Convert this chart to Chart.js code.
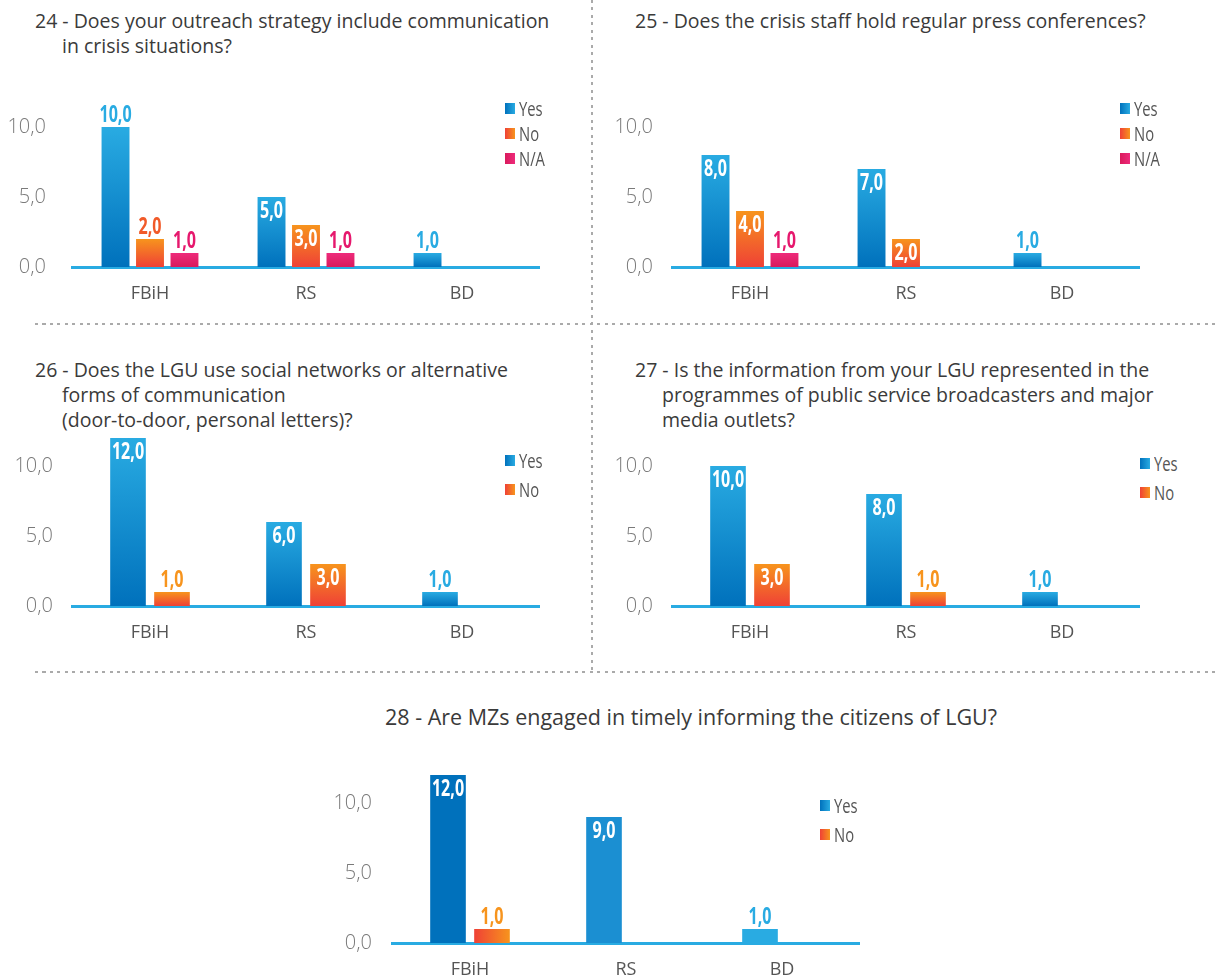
<!DOCTYPE html>
<html lang="en">
<head>
  <meta charset="utf-8">
  <title>Crisis communication | Chart.js</title>
  <script src="https://cdn.jsdelivr.net/npm/chart.js@4.4.0/dist/chart.umd.min.js"></script>
  <style>
    html, body { margin: 0; padding: 0; background: #fff; }
    body { width: 1215px; height: 975px; position: relative; overflow: hidden;
           font-family: 'Open Sans', 'Noto Sans', sans-serif; }
    .title { position: absolute; font-size: 19.5px; line-height: 25px; color: #3a3a3a;
             white-space: nowrap; padding-left: 27px; text-indent: -27px; }
    .legend { position: absolute; font-family: 'Open Sans', 'Noto Sans', sans-serif;
              font-size: 20px; color: #555; }
    .legend div { display: flex; align-items: center; white-space: nowrap; }
    .legend .sq { display: inline-block; width: 10px; height: 11px; margin-right: 4px; }
    .legend .tx { display: inline-block; transform: scaleX(0.74); transform-origin: left center; }
    .hline { position: absolute; height: 2px;
             background: repeating-linear-gradient(to right, #aaa 0 3px, transparent 3px 7.5px); }
    .vline { position: absolute; width: 2px;
             background: repeating-linear-gradient(to bottom, #aaa 0 3px, transparent 3px 7.5px); }
    canvas { position: absolute; }
  </style>
</head>
<body>
  <div class="hline" style="left:35px; top:323px; width:1180px;"></div>
  <div class="hline" style="left:35px; top:671px; width:1180px;"></div>
  <div class="vline" style="left:591px; top:0; height:670px;"></div>

  <div class="title" id="t24" style="left:35px; top:8px;"></div>
  <div class="title" id="t25" style="left:635px; top:8px;"></div>
  <div class="title" id="t26" style="left:35px; top:357px;"></div>
  <div class="title" id="t27" style="left:635px; top:357px;"></div>
  <div class="title" id="t28" style="left:385px; top:704px; font-size:21.5px;"></div>

  <canvas id="c24"></canvas>
  <canvas id="c25"></canvas>
  <canvas id="c26"></canvas>
  <canvas id="c27"></canvas>
  <canvas id="c28"></canvas>

  <div class="legend" id="l24" style="left:505px; top:96px;"></div>
  <div class="legend" id="l25" style="left:1120px; top:96px;"></div>
  <div class="legend" id="l26" style="left:505px; top:446px;"></div>
  <div class="legend" id="l27" style="left:1140px; top:449px;"></div>
  <div class="legend" id="l28" style="left:820px; top:791px;"></div>

  <script>
    // data
    const categories = ['FBiH', 'RS', 'BD'];

    const q24Yes = [10, 5, 1];
    const q24No = [2, 3, null];
    const q24NA = [1, 1, null];

    const q25Yes = [8, 7, 1];
    const q25No = [4, 2, null];
    const q25NA = [1, null, null];

    const q26Yes = [12, 6, 1];
    const q26No = [1, 3, null];

    const q27Yes = [10, 8, 1];
    const q27No = [3, 1, null];

    const q28Yes = [12, 9, 1];
    const q28No = [1, null, null];

    const titles = {
      t24: ['24 - Does your outreach strategy include communication', 'in crisis situations?'],
      t25: ['25 - Does the crisis staff hold regular press conferences?'],
      t26: ['26 - Does the LGU use social networks or alternative', 'forms of communication', '(door-to-door, personal letters)?'],
      t27: ['27 - Is the information from your LGU represented in the', 'programmes of public service broadcasters and major', 'media outlets?'],
      t28: ['28 - Are MZs engaged in timely informing the citizens of LGU?']
    };

    const fmt = v => v.toFixed(1).replace('.', ',');

    Object.keys(titles).forEach(k => {
      document.getElementById(k).innerHTML = titles[k].join('<br>');
    });

    // vertical gradient per bar, light at the top, dark at the base
    function vGrad(top, bottom) {
      return function(ctx) {
        const chart = ctx.chart;
        if (ctx.type !== 'data' || ctx.raw == null || !chart.chartArea) return top;
        const y = chart.scales.y;
        const y1 = y.getPixelForValue(ctx.raw), y0 = y.getPixelForValue(0);
        if (!isFinite(y1) || !isFinite(y0)) return top;
        const g = chart.ctx.createLinearGradient(0, y1, 0, y0);
        g.addColorStop(0, top);
        g.addColorStop(1, bottom);
        return g;
      };
    }

    // horizontal gradient across one bar
    function hGrad(left, right) {
      return function(ctx) {
        const chart = ctx.chart;
        if (ctx.type !== 'data' || ctx.raw == null || !chart.chartArea) return right;
        const xs = chart.scales.x;
        const n = chart.data.datasets.length;
        const cp = chart.options.datasets.bar.categoryPercentage;
        const bp = chart.options.datasets.bar.barPercentage;
        const cw = xs.width / categories.length;
        const slot = cw * cp / n;
        const cx = xs.getPixelForValue(ctx.dataIndex) - cw * cp / 2 + slot * (ctx.datasetIndex + 0.5);
        const half = slot * bp / 2;
        if (!isFinite(cx)) return right;
        const g = chart.ctx.createLinearGradient(cx - half, 0, cx + half, 0);
        g.addColorStop(0, left);
        g.addColorStop(1, right);
        return g;
      };
    }

    // value labels: white inside the bar, or coloured above it (narrow bold)
    const barLabels = {
      id: 'barLabels',
      afterDatasetsDraw(chart) {
        const c = chart.ctx;
        chart.data.datasets.forEach((ds, di) => {
          chart.getDatasetMeta(di).data.forEach((el, i) => {
            const v = ds.data[i];
            if (v == null) return;
            c.save();
            c.font = 'bold 23px "Open Sans", "Noto Sans", sans-serif';
            c.textAlign = 'center';
            c.textBaseline = 'alphabetic';
            if (ds.inside[i]) {
              c.fillStyle = '#fff';
              c.translate(el.x, el.y + 21);
            } else {
              c.fillStyle = ds.labelColor;
              c.translate(el.x, el.y - 5);
            }
            c.scale(0.7, 1);
            c.fillText(fmt(v), 0, 0);
            c.restore();
          });
        });
      }
    };

    function makeChart(id, axisLeft, axisY, tickPad, catPct, datasets) {
      const cv = document.getElementById(id);
      const w = 540, h = 232;
      cv.width = w; cv.height = h;
      cv.style.width = w + 'px'; cv.style.height = h + 'px';
      cv.style.left = (axisLeft - 72) + 'px';
      cv.style.top = (axisY - 192) + 'px';

      return new Chart(cv, {
        type: 'bar',
        data: { labels: categories, datasets: datasets },
        options: {
          responsive: false,
          animation: false,
          layout: { padding: { top: 24, left: 0, right: 0, bottom: 0 } },
          datasets: { bar: { categoryPercentage: catPct, barPercentage: 0.81 } },
          plugins: { legend: { display: false }, tooltip: { enabled: false } },
          scales: {
            x: {
              z: 1,
              grid: { color: 'transparent', drawTicks: false },
              border: { color: '#29abe2', width: 3 },
              ticks: { padding: 16, color: '#555', font: { family: "'Open Sans', 'Noto Sans', sans-serif", size: 18 } },
              afterFit(s) { s.height = 40; s.paddingLeft = 0; s.paddingRight = 0; }
            },
            y: {
              min: 0,
              max: 12,
              grid: { display: false, drawTicks: false },
              border: { display: false },
              ticks: {
                stepSize: 5,
                includeBounds: false,
                padding: tickPad,
                color: '#7a7a7a',
                font: { family: "'Open Sans', 'Noto Sans', sans-serif", size: 20, weight: '300' },
                callback: v => fmt(v)
              },
              afterFit(s) { s.width = 72; s.paddingTop = 0; s.paddingBottom = 0; }
            }
          }
        },
        plugins: [barLabels]
      });
    }

    function legend(id, rowH, items) {
      const box = document.getElementById(id);
      box.innerHTML = items.map(it =>
        '<div style="height:' + rowH + 'px"><span class="sq" style="background:' + it[1] + '"></span><span class="tx">' + it[0] + '</span></div>'
      ).join('');
    }

    const blueG = vGrad('#29abe2', '#0071bc');
    const orangeG = vGrad('#f7941d', '#ef4136');
    const pinkG = vGrad('#ee2a7b', '#d91b5c');

    const legYes = ['Yes', 'linear-gradient(to right, #0071bc, #29abe2)'];
    const legNo = ['No', 'linear-gradient(to right, #ef4136, #f7941d)'];
    const legNA = ['N/A', 'linear-gradient(to right, #d91b5c, #ee2a7b)'];

    makeChart('c24', 72, 267, 26, 0.663, [
      { label: 'Yes', data: q24Yes, backgroundColor: blueG, labelColor: '#29abe2', inside: [false, true, false] },
      { label: 'No', data: q24No, backgroundColor: orangeG, labelColor: '#f15a29', inside: [false, true, false] },
      { label: 'N/A', data: q24NA, backgroundColor: pinkG, labelColor: '#e6186d', inside: [false, false, false] }
    ]);
    legend('l24', 25, [legYes, legNo, legNA]);

    makeChart('c25', 672, 267, 19, 0.663, [
      { label: 'Yes', data: q25Yes, backgroundColor: blueG, labelColor: '#29abe2', inside: [true, true, false] },
      { label: 'No', data: q25No, backgroundColor: orangeG, labelColor: '#f15a29', inside: [true, true, false] },
      { label: 'N/A', data: q25NA, backgroundColor: pinkG, labelColor: '#e6186d', inside: [false, false, false] }
    ]);
    legend('l25', 25, [legYes, legNo, legNA]);

    makeChart('c26', 72, 606, 19, 0.564, [
      { label: 'Yes', data: q26Yes, backgroundColor: blueG, labelColor: '#29abe2', inside: [true, true, false] },
      { label: 'No', data: q26No, backgroundColor: orangeG, labelColor: '#f7941d', inside: [false, true, false] }
    ]);
    legend('l26', 29, [legYes, legNo]);

    makeChart('c27', 672, 606, 19, 0.564, [
      { label: 'Yes', data: q27Yes, backgroundColor: blueG, labelColor: '#29abe2', inside: [true, true, false] },
      { label: 'No', data: q27No, backgroundColor: orangeG, labelColor: '#f7941d', inside: [true, false, false] }
    ]);
    legend('l27', 29, [legYes, legNo]);

    makeChart('c28', 392, 943, 20, 0.564, [
      { label: 'Yes', data: q28Yes, backgroundColor: ['#0071bc', '#1b8fd2', '#29abe2'], labelColor: '#29abe2', inside: [true, true, false] },
      { label: 'No', data: q28No, backgroundColor: hGrad('#ef4136', '#f7941d'), labelColor: '#f7941d', inside: [false, false, false] }
    ]);
    legend('l28', 29, [legYes, legNo]);
  </script>
</body>
</html>
